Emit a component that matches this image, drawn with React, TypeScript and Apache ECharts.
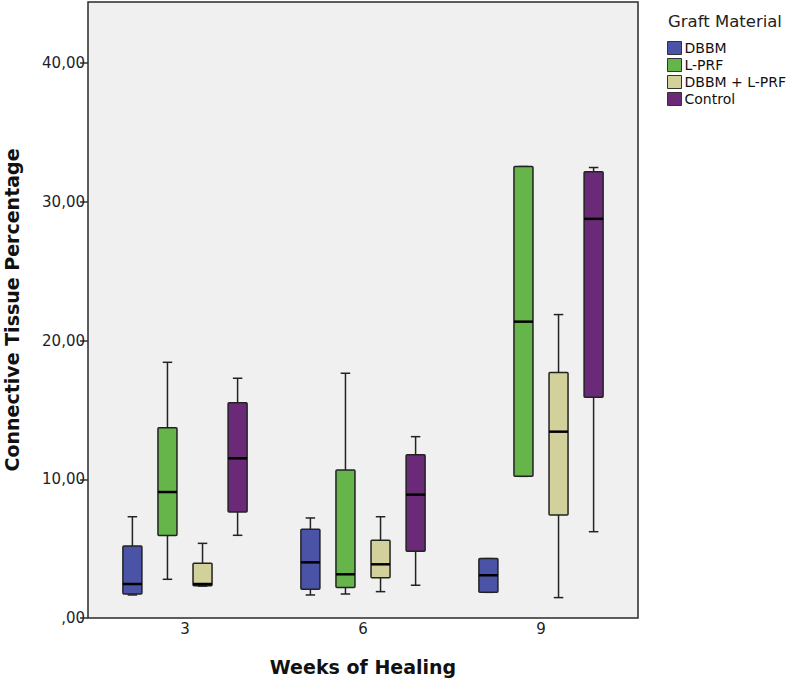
import React, { useEffect, useRef } from 'react';
import * as echarts from 'echarts';

const weeks = ['3', '6', '9'];
const groups = ['DBBM', 'L-PRF', 'DBBM + L-PRF', 'Control'];
const groupColors = ['#4A53A6', '#66B54B', '#D2D19B', '#6A2A77'];
// each row: [min, Q1, median, Q3, max] for weeks 3, 6, 9
const dbbm = [
  [1.66, 1.73, 2.45, 5.19, 7.3],
  [1.66, 2.07, 4.01, 6.39, 7.21],
  [1.85, 1.85, 3.08, 4.28, 4.28],
];
const lprf = [
  [2.79, 5.94, 9.08, 13.72, 18.43],
  [1.73, 2.19, 3.15, 10.67, 17.64],
  [10.21, 10.21, 21.36, 32.54, 32.54],
];
const combo = [
  [2.3, 2.33, 2.45, 3.94, 5.38],
  [1.9, 2.91, 3.87, 5.6, 7.3],
  [1.47, 7.43, 13.43, 17.69, 21.87],
];
const control = [
  [5.96, 7.64, 11.51, 15.52, 17.28],
  [2.36, 4.81, 8.89, 11.77, 13.07],
  [6.22, 15.91, 28.77, 32.16, 32.47],
];
const yTicks = [0, 10, 20, 30, 40];
const yMax = 44.4;

const FONT = '"DejaVu Sans", Verdana, sans-serif';

const makeRender = (slot: number) => (params: any, api: any) => {
  const band = api.size([1, 0])[0];
  const cat = api.value(0);
  const cx = api.coord([cat, 0])[0] + (slot - 1.5) * band * 0.197;
  const ys = [1, 2, 3, 4, 5].map((k) => api.coord([cat, api.value(k)])[1]);
  const [yMin, yQ1, yMed, yQ3, yMx] = ys;
  const hw = band * 0.0534;
  const cw = hw * 0.5;
  const stroke = '#222';
  const ls = { stroke, lineWidth: 1.5 };
  return {
    type: 'group',
    children: [
      { type: 'line', shape: { x1: cx, y1: yMx, x2: cx, y2: yQ3 }, style: ls },
      { type: 'line', shape: { x1: cx, y1: yQ1, x2: cx, y2: yMin }, style: ls },
      { type: 'line', shape: { x1: cx - cw, y1: yMx, x2: cx + cw, y2: yMx }, style: ls },
      { type: 'line', shape: { x1: cx - cw, y1: yMin, x2: cx + cw, y2: yMin }, style: ls },
      {
        type: 'rect',
        shape: { x: cx - hw, y: yQ3, width: hw * 2, height: Math.max(yQ1 - yQ3, 0.5), r: 1 },
        style: { fill: api.visual('color'), stroke, lineWidth: 1.5 },
      },
      {
        type: 'line',
        shape: { x1: cx - hw, y1: yMed, x2: cx + hw, y2: yMed },
        style: { stroke: '#000', lineWidth: 2.5 },
      },
    ],
  };
};

export default function App() {
  const ref = useRef<HTMLDivElement>(null);
  useEffect(() => {
    if (!ref.current) return;
    const chart = echarts.init(ref.current, undefined, { renderer: 'svg' });
    const seriesData = [dbbm, lprf, combo, control];
    chart.setOption({
      animation: false,
      grid: [
        {
          left: 88,
          top: 2,
          width: 550,
          height: 616,
          show: true,
          backgroundColor: '#F0F0F0',
          borderColor: '#2a2a2a',
          borderWidth: 1.5,
        },
        { left: 96, top: 2, width: 534, height: 616 },
      ],
      xAxis: [
        { gridIndex: 0, type: 'value', show: false },
        {
          gridIndex: 1,
          type: 'category',
          data: weeks,
          axisLine: { show: false },
          axisTick: { alignWithLabel: true, length: 9, lineStyle: { color: '#333', width: 1.5 } },
          axisLabel: { fontSize: 15, color: '#222', margin: 3, fontFamily: FONT },
          splitLine: { show: false },
        },
      ],
      yAxis: [
        {
          gridIndex: 0,
          type: 'value',
          min: 0,
          max: yMax,
          axisLine: { show: false },
          axisTick: { show: true, length: 8, customValues: yTicks, lineStyle: { color: '#333', width: 1.5 } },
          axisLabel: {
            customValues: yTicks,
            fontSize: 15,
            color: '#1d1d2b',
            margin: 3,
            fontFamily: FONT,
            formatter: (v: number) =>
              yTicks.indexOf(v) < 0 ? '' : v === 0 ? ',00' : v.toFixed(2).replace('.', ','),
          },
          splitLine: { show: false },
        },
        { gridIndex: 1, type: 'value', min: 0, max: yMax, show: false },
      ],
      legend: {
        orient: 'vertical',
        left: 667,
        top: 41,
        padding: 0,
        itemWidth: 14,
        itemHeight: 13,
        itemGap: 3,
        icon: 'rect',
        data: groups,
        itemStyle: { borderColor: '#333', borderWidth: 1 },
        textStyle: { fontSize: 14, fontFamily: FONT, color: '#111', lineHeight: 14, padding: [0, 0, 0, -2] },
      },
      graphic: [
        {
          type: 'text',
          x: 12,
          y: 310,
          rotation: Math.PI / 2,
          style: {
            text: 'Connective Tissue Percentage',
            fontSize: 19,
            fontWeight: 'bold',
            fontFamily: FONT,
            fill: '#111',
            align: 'center',
            verticalAlign: 'middle',
          },
        },
        {
          type: 'text',
          x: 363,
          y: 667,
          style: {
            text: 'Weeks of Healing',
            fontSize: 19,
            fontWeight: 'bold',
            fontFamily: FONT,
            fill: '#111',
            align: 'center',
            verticalAlign: 'middle',
          },
        },
        {
          type: 'text',
          x: 668,
          y: 21,
          style: {
            text: 'Graft Material',
            fontSize: 16.5,
            fontFamily: FONT,
            fill: '#222',
            align: 'left',
            verticalAlign: 'middle',
          },
        },
      ],
      series: groups.map((name, i) => ({
        type: 'custom',
        name,
        xAxisIndex: 1,
        yAxisIndex: 1,
        itemStyle: { color: groupColors[i], borderColor: '#333', borderWidth: 1 },
        encode: { x: 0, y: [1, 2, 3, 4, 5] },
        data: seriesData[i].map((row, j) => [j, ...row]),
        renderItem: makeRender(i),
      })),
    });
    return () => chart.dispose();
  }, []);
  return (
    <div
      ref={ref}
      style={{ position: 'absolute', left: 0, top: 0, width: 790, height: 683 }}
    />
  );
}
